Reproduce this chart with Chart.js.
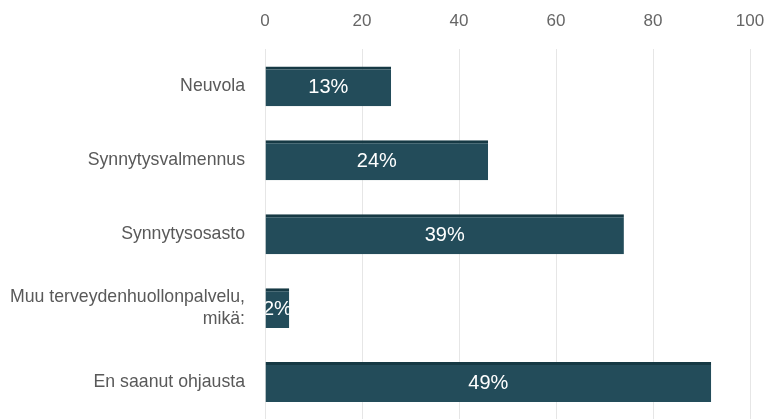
<!DOCTYPE html>
<html>
<head>
<meta charset="utf-8">
<script src="https://cdn.jsdelivr.net/npm/chart.js@4"></script>
<style>
  html, body { margin: 0; padding: 0; background: #ffffff; }
  #wrap { width: 771px; height: 419px; position: relative; }
</style>
</head>
<body>
<div id="wrap"><canvas id="chart"></canvas></div>
<script>
const categories = [
  "Neuvola",
  "Synnytysvalmennus",
  "Synnytysosasto",
  ["Muu terveydenhuollonpalvelu,", "mikä:"],
  "En saanut ohjausta"
];
const counts = [26, 46, 74, 5, 92];
const percentLabels = ["13%", "24%", "39%", "2%", "49%"];
const tickValues = [0, 20, 40, 60, 80, 100];

const fontFamily = "'Liberation Sans', Arial, sans-serif";

// Prosenttiteksti palkin keskelle, leikattuna palkin sisään
const barLabels = {
  id: "barLabels",
  afterDatasetsDraw(chart) {
    const ctx = chart.ctx;
    const meta = chart.getDatasetMeta(0);
    meta.data.forEach((bar, i) => {
      const left = Math.min(bar.base, bar.x);
      const right = Math.max(bar.base, bar.x);
      const top = bar.y - bar.height / 2;
      ctx.save();
      ctx.beginPath();
      ctx.rect(left, top, right - left, bar.height);
      ctx.clip();
      ctx.fillStyle = "#ffffff";
      ctx.font = "20px " + fontFamily;
      ctx.textAlign = "center";
      ctx.textBaseline = "middle";
      ctx.fillText(percentLabels[i], (left + right) / 2, bar.y + 1);
      ctx.restore();
    });
  }
};

new Chart(document.getElementById("chart"), {
  type: "bar",
  data: {
    labels: categories,
    datasets: [{
      data: counts,
      backgroundColor: "#234c5a",
      borderColor: "#163944",
      borderWidth: { top: 3, left: 0, right: 0, bottom: 0 },
      borderSkipped: false,
      barPercentage: 0.9,
      categoryPercentage: 0.6
    }]
  },
  options: {
    indexAxis: "y",
    responsive: true,
    maintainAspectRatio: false,
    animation: false,
    layout: { padding: { top: -7, right: 21, left: 0, bottom: 0 } },
    plugins: {
      legend: { display: false },
      tooltip: { enabled: false }
    },
    scales: {
      x: {
        position: "top",
        min: 0,
        max: 100,
        afterBuildTicks(axis) {
          axis.ticks = tickValues.map(v => ({ value: v }));
        },
        afterFit(axis) {
          axis.paddingLeft = 0;
          axis.paddingRight = 0;
        },
        ticks: {
          color: "#666666",
          padding: 18,
          font: { size: 17, family: fontFamily }
        },
        grid: { color: "#e6e6e6", drawTicks: false },
        border: { display: false }
      },
      y: {
        afterFit(axis) {
          axis.width = 265;
          axis.paddingTop = 0;
          axis.paddingBottom = 0;
        },
        ticks: {
          color: "#595959",
          padding: 12,
          font: { size: 17.7, family: fontFamily }
        },
        grid: { display: false },
        border: { display: false }
      }
    }
  },
  plugins: [barLabels]
});
</script>
</body>
</html>
